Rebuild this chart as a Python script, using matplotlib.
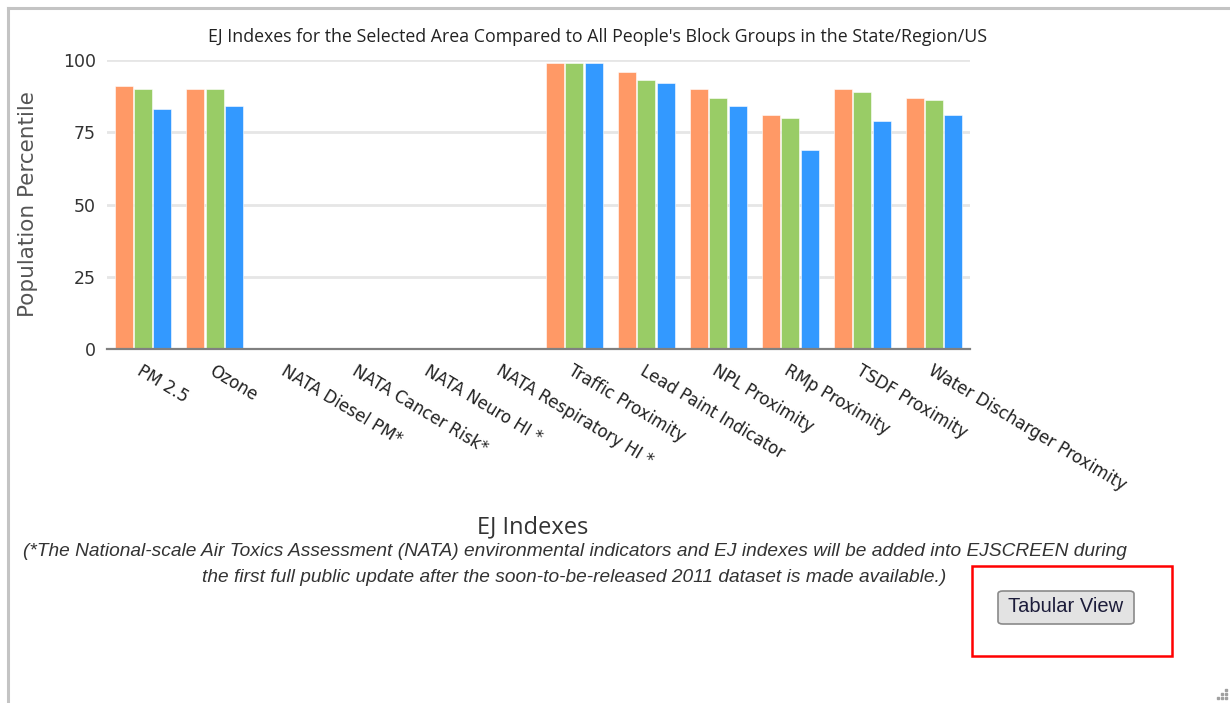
import numpy as np
import matplotlib
matplotlib.use("Agg")
import matplotlib.pyplot as plt
from matplotlib.patches import Rectangle, FancyBboxPatch
from matplotlib.lines import Line2D

# data
categories = ["PM 2.5", "Ozone", "NATA Diesel PM*", "NATA Cancer Risk*",
              "NATA Neuro HI *", "NATA Respiratory HI *", "Traffic Proximity",
              "Lead Paint Indicator", "NPL Proximity", "RMp Proximity",
              "TSDF Proximity", "Water Discharger Proximity"]
state_pct = [91, 90, 0, 0, 0, 0, 99, 96, 90, 81, 90, 87]
region_pct = [90, 90, 0, 0, 0, 0, 99, 93, 87, 80, 89, 86]
us_pct = [83, 84, 0, 0, 0, 0, 99, 92, 84, 69, 79, 81]
yticks = [0, 25, 50, 75, 100]

colors = ["#ff9966", "#99cc66", "#3399ff"]

W, H = 1230, 703
fig = plt.figure(figsize=(W / 100, H / 100), dpi=100)
fig.patch.set_facecolor("white")


def fx(px):
    return px / W


def fy(py):
    return 1 - py / H


ax = fig.add_axes([fx(107), fy(349), fx(970) - fx(107), (349 - 60) / H])

x = np.arange(len(categories))
bw = 0.25
off = 0.27
for i, vals in enumerate([state_pct, region_pct, us_pct]):
    ax.bar(x + (i - 1) * off, vals, width=bw, color=colors[i],
           edgecolor="white", linewidth=0.4, zorder=3)

ax.set_xlim(-0.5, len(categories) - 0.5)
ax.set_ylim(0, 100)
ax.set_yticks(yticks)
ax.yaxis.grid(True, color="#e6e6e6", linewidth=2)
ax.set_axisbelow(True)
for s in ["top", "right", "left"]:
    ax.spines[s].set_visible(False)
ax.spines["bottom"].set_color("#808080")
ax.spines["bottom"].set_linewidth(1.6)
ax.spines["bottom"].set_zorder(4)
ax.tick_params(axis="y", length=0, pad=8, labelsize=12.5, labelcolor="#333333")
ax.tick_params(axis="x", length=0, pad=9)
ax.set_xticks(x)
ax.set_xticklabels(categories, rotation=-31, ha="left", va="top",
                   rotation_mode="anchor", fontsize=12, color="#222222")

ax.set_ylabel("Population Percentile", fontsize=15.5, color="#555555", labelpad=18)

fig.text(fx(598), fy(37),
         "EJ Indexes for the Selected Area Compared to All People's Block Groups in the State/Region/US",
         ha="center", va="center", fontsize=12.8, family="Open Sans", color="#222222")

fig.text(fx(533), fy(527), "EJ Indexes", ha="center", va="center",
         fontsize=17, family="Open Sans", color="#333333")

fig.text(fx(575), fy(551),
         "(*The National-scale Air Toxics Assessment (NATA) environmental indicators and EJ indexes will be added into EJSCREEN during",
         ha="center", va="center", fontsize=13.8, style="italic",
         family="Liberation Sans", color="#333333")
fig.text(fx(574), fy(578),
         "the first full public update after the soon-to-be-released 2011 dataset is made available.)",
         ha="center", va="center", fontsize=13.8, style="italic",
         family="Liberation Sans", color="#333333")

# button and red highlight box
fig.patches.append(FancyBboxPatch((fx(998), fy(624)), fx(1134) - fx(998), (624 - 591) / H,
                                  boxstyle="round,pad=0,rounding_size=0.004",
                                  transform=fig.transFigure, facecolor="#e3e3e3",
                                  edgecolor="#8a8a8a", linewidth=1.2))
fig.text(fx(1066), fy(607), "Tabular View", ha="center", va="center",
         fontsize=14.5, family="Liberation Sans", color="#1c1c3a")
fig.patches.append(Rectangle((fx(972), fy(656)), fx(1172) - fx(972), (656 - 566) / H,
                             transform=fig.transFigure, fill=False,
                             edgecolor="#ff0000", linewidth=1.8))

# panel borders
fig.lines.append(Line2D([fx(8), fx(8)], [fy(8), 0], transform=fig.transFigure,
                        color="#c4c4c4", linewidth=2.2))
fig.lines.append(Line2D([fx(8), 1], [fy(8), fy(8)], transform=fig.transFigure,
                        color="#c4c4c4", linewidth=2.2))

# resize grip
gx = [1226, 1222, 1226, 1218, 1222, 1226]
gy = [690, 694, 694, 698, 698, 698]
fig.lines.append(Line2D([fx(v) for v in gx], [fy(v) for v in gy], transform=fig.transFigure,
                        linestyle="none", marker="s", markersize=1.5, color="#a0a0a0"))

fig.savefig("out.png", dpi=100)
